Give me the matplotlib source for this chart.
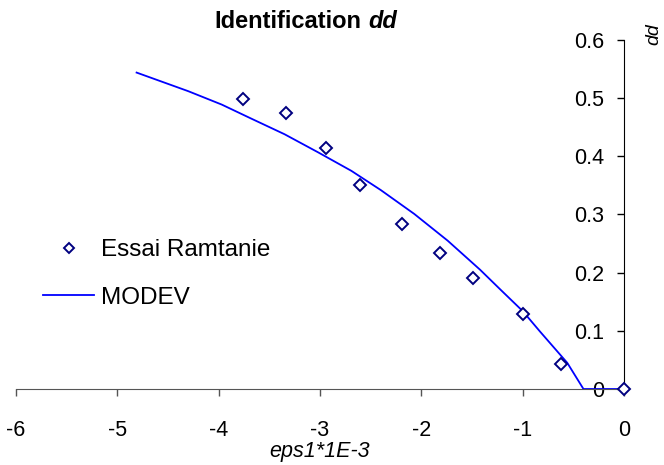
import matplotlib.pyplot as plt

plt.rcParams['font.family'] = ['Liberation Sans', 'DejaVu Sans']

# experimental points (Essai Ramtanie)
essai_x = [-3.76, -3.34, -2.94, -2.61, -2.19, -1.82, -1.49, -1.00, -0.62, 0.0]
essai_y = [0.498, 0.475, 0.414, 0.350, 0.283, 0.233, 0.190, 0.129, 0.043, 0.0]

# model curve (MODEV)
modev_x = [-4.81, -4.30, -3.97, -3.68, -3.35, -3.02, -2.69, -2.40, -2.07,
           -1.74, -1.42, -1.22, -1.00, -0.83, -0.56, -0.40, 0.0]
modev_y = [0.544, 0.512, 0.489, 0.465, 0.438, 0.407, 0.375, 0.342, 0.301,
           0.255, 0.205, 0.171, 0.134, 0.099, 0.045, 0.0, 0.0]

x_ticks = [-6, -5, -4, -3, -2, -1, 0]
x_labels = ['-6', '-5', '-4', '-3', '-2', '-1', '0']
y_ticks = [0, 0.1, 0.2, 0.3, 0.4, 0.5, 0.6]
y_labels = ['0', '0.1', '0.2', '0.3', '0.4', '0.5', '0.6']

W, H = 664, 465
fig = plt.figure(figsize=(W / 100, H / 100), dpi=100)
ax = fig.add_axes([16 / W, (H - 389) / H, (624 - 16) / W, (389 - 40) / H])

ax.plot(modev_x, modev_y, color='#0000FF', lw=1.3, label='MODEV', zorder=2)
ax.plot(essai_x, essai_y, ls='none', marker='D', ms=6.5, mfc='white',
        mec='#000080', mew=1.4, label='Essai Ramtanie', zorder=3,
        clip_on=False)

ax.set_xlim(-6, 0)
ax.set_ylim(0, 0.6)
ax.set_xticks(x_ticks)
ax.set_xticklabels(x_labels)
ax.set_yticks(y_ticks)
ax.set_yticklabels(y_labels)

ax.spines['top'].set_visible(False)
ax.spines['right'].set_visible(False)
ax.spines['left'].set_position(('data', 0))
ax.spines['bottom'].set_color('#555555')
ax.tick_params(axis='both', direction='out', length=5, width=1, labelsize=15.5)
ax.tick_params(axis='x', pad=17, color='#555555')
ax.tick_params(axis='y', pad=9)

ax.set_xlabel('eps1*1E-3', fontsize=15.5, style='italic', labelpad=0)

handles, labels = ax.get_legend_handles_labels()
ax.legend(handles[::-1], labels[::-1], loc='center left',
          bbox_to_anchor=(43 / W, (H - 274) / H), bbox_transform=fig.transFigure,
          frameon=False, fontsize=17.5, handlelength=2.1, handletextpad=0.3,
          labelspacing=1.05, borderpad=0, borderaxespad=0, markerscale=0.75)

fig.text(361 / W, 1 - 22 / H, 'Identification', fontsize=17, fontweight='bold',
         ha='right', va='center')
fig.text(368 / W, 1 - 22 / H, 'dd', fontsize=17, fontweight='bold',
         style='italic', ha='left', va='center')
fig.text(654 / W, 1 - 34 / H, 'dd', fontsize=14, style='italic', rotation=90,
         ha='center', va='center')

fig.savefig('out.png', dpi=100)
